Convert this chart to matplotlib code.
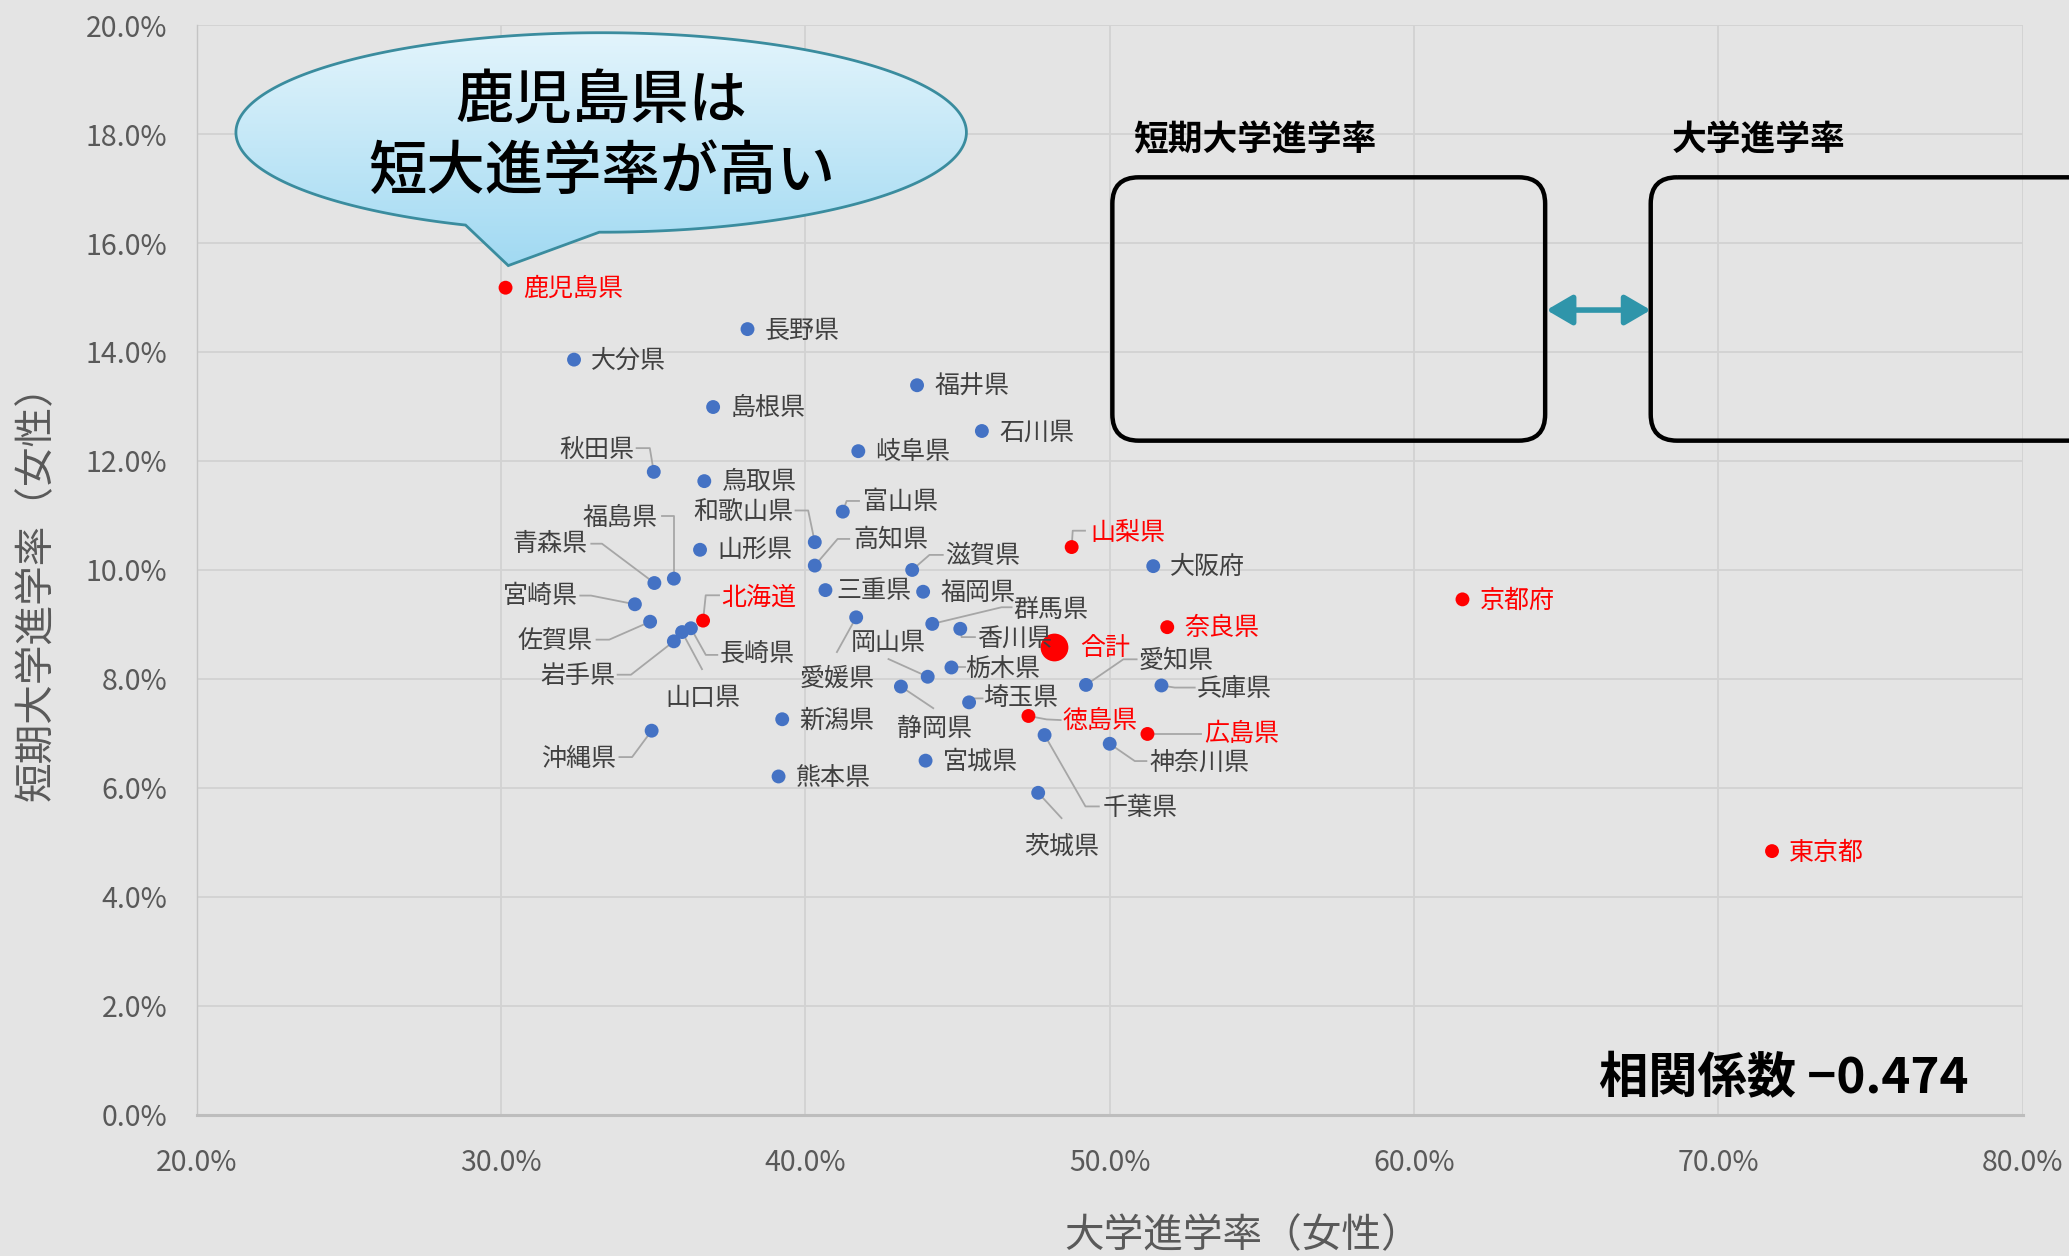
import numpy as np
import matplotlib
matplotlib.use("Agg")
import matplotlib.pyplot as plt
from matplotlib.patches import Polygon, FancyBboxPatch, FancyArrowPatch
from matplotlib.lines import Line2D
from matplotlib.transforms import IdentityTransform
from matplotlib.ticker import FuncFormatter

plt.rcParams['font.family'] = ['Noto Sans CJK JP', 'DejaVu Sans']

# ---------------- data ----------------
prefectures = ["北海道", "青森県", "岩手県", "宮城県", "秋田県", "山形県", "福島県", "茨城県",
               "栃木県", "群馬県", "埼玉県", "千葉県", "東京都", "神奈川県", "新潟県", "富山県",
               "石川県", "福井県", "山梨県", "長野県", "岐阜県", "静岡県", "愛知県", "三重県",
               "滋賀県", "京都府", "大阪府", "兵庫県", "奈良県", "和歌山県", "鳥取県", "島根県",
               "岡山県", "広島県", "山口県", "徳島県", "香川県", "愛媛県", "高知県", "福岡県",
               "佐賀県", "長崎県", "熊本県", "大分県", "宮崎県", "鹿児島県", "沖縄県"]
univ_rate = [36.64, 35.04, 35.68, 43.95, 35.02, 36.54, 35.68, 47.65,
             44.80, 44.17, 45.38, 47.86, 71.76, 50.00, 39.24, 41.23,
             45.80, 43.67, 48.75, 38.10, 41.74, 43.14, 49.22, 40.66,
             43.51, 61.59, 51.43, 51.70, 51.89, 40.31, 36.68, 36.97,
             44.02, 51.24, 35.95, 47.33, 45.09, 41.67, 40.31, 43.87,
             34.90, 36.24, 39.12, 32.40, 34.40, 30.15, 34.95]
junior_rate = [9.07, 9.76, 8.69, 6.50, 11.80, 10.37, 9.84, 5.91,
               8.21, 9.01, 7.57, 6.97, 4.84, 6.81, 7.26, 11.07,
               12.55, 13.39, 10.42, 14.42, 12.18, 7.86, 7.89, 9.63,
               10.00, 9.46, 10.07, 7.88, 8.95, 10.51, 11.63, 12.99,
               8.04, 6.99, 8.86, 7.32, 8.92, 9.13, 10.08, 9.60,
               9.05, 8.93, 6.21, 13.86, 9.37, 15.18, 7.05]
highlighted = ["北海道", "東京都", "山梨県", "京都府", "奈良県", "広島県", "徳島県", "鹿児島県"]
total_label = "合計"
total_univ = 48.17
total_junior = 8.59

x_ticks = [20, 30, 40, 50, 60, 70, 80]
y_ticks = [0, 2, 4, 6, 8, 10, 12, 14, 16, 18, 20]
x_label = "大学進学率（女性）"
y_label = "短期大学進学率（女性）"
bubble_lines = ["鹿児島県は", "短大進学率が高い"]
box_titles = ["短期大学進学率", "大学進学率"]
corr_text = "相関係数 −0.474"

# ---------------- layout (in 1568x952 preview pixel units) ----------------
W, H, DPI = 2069, 1256, 100
PW, PH = 1568, 952
S = W / PW

# label text offsets: (dx, dy, ha)  y up
default_off = (13, 0, 'left')
label_off = {
    "合計": (20, 0, 'left'), "三重県": (8, 0, 'left'),
    "秋田県": (-14.7, 17, 'right'), "福島県": (-12.1, 47.2, 'right'),
    "和歌山県": (-16, 23.2, 'right'), "青森県": (-50.7, 30.3, 'right'),
    "宮崎県": (-43.5, 7, 'right'), "佐賀県": (-43.5, -13.6, 'right'),
    "岩手県": (-44, -25.3, 'right'), "沖縄県": (-26.7, -20.7, 'right'),
    "山口県": (16, -48.8, 'center'), "長崎県": (21.4, -18.8, 'left'),
    "北海道": (13.5, 18.4, 'left'), "富山県": (15.1, 8.1, 'left'),
    "高知県": (28.9, 20.2, 'left'), "滋賀県": (24.7, 11.4, 'left'),
    "愛媛県": (-14.6, -45.9, 'center'), "岡山県": (-29.8, 26.5, 'center'),
    "群馬県": (61.4, 11.9, 'left'), "香川県": (12.4, -7.1, 'left'),
    "栃木県": (10.2, -0.5, 'left'), "埼玉県": (10.7, 4, 'left'),
    "静岡県": (25.2, -31.1, 'center'), "徳島県": (26, -2.5, 'left'),
    "愛知県": (40, 19.4, 'left'), "兵庫県": (27, -1.6, 'left'),
    "広島県": (42.7, 1.3, 'left'), "神奈川県": (29.8, -13.6, 'left'),
    "千葉県": (44.2, -54.5, 'left'), "茨城県": (18.1, -40, 'center'),
    "山梨県": (13.8, 11.8, 'left'),
}
# leader polylines: start near label, optional elbow, then to the dot
leaders = {
    "秋田県": [(-13, 18), (-3, 18)], "福島県": [(-9.2, 47.8), (0, 47.8)],
    "和歌山県": [(-14.6, 24), (-5, 24)], "青森県": [(-47.8, 29.8), (-39.7, 29.8)],
    "宮崎県": [(-41.4, 6.6), (-33.3, 6.6)], "佐賀県": [(-40.6, -13.6), (-31, -13.6)],
    "岩手県": [(-42.6, -25.3), (-32.5, -25.3)], "山口県": [(15.1, -28.1)],
    "長崎県": [(20, -20.2), (11.3, -20.2)], "北海道": [(12.1, 19.2), (2, 19.2)],
    "沖縄県": [(-24.4, -20), (-14.8, -20)], "富山県": [(12.3, 8.1), (2.9, 8.1)],
    "高知県": [(26.1, 20.2), (17.3, 20.2)], "滋賀県": [(23.2, 11.4), (13.1, 11.4)],
    "愛媛県": [(-14.6, -26.3)], "岡山県": [(-29.7, 13.4)],
    "群馬県": [(60.1, 12.6), (52.5, 12.6)], "香川県": [(11.1, -6.3), (1, -6.3)],
    "栃木県": [(10.2, 0)], "埼玉県": [(10.2, 3), (3.1, 3)],
    "静岡県": [(24.5, -16.4)], "徳島県": [(24.4, -3.1), (13.8, -2.6)],
    "愛知県": [(38.4, 19.4), (28.3, 19.4)], "兵庫県": [(25.2, -1.6), (10.1, -1.6)],
    "広島県": [(40.9, 0)], "神奈川県": [(27.8, -13.1), (19, -13.1)],
    "千葉県": [(41.1, -54.1), (31, -54.1)], "茨城県": [(17.7, -19.2)],
    "山梨県": [(10.1, 12.4), (0.8, 12.4)],
}

BG = '#e4e4e4'
BLUE = '#4472c4'
RED = '#ff0000'
LABEL_GRAY = '#404040'
AXIS_GRAY = '#595959'

fig = plt.figure(figsize=(W / DPI, H / DPI), dpi=DPI)
fig.patch.set_facecolor(BG)

ax = fig.add_axes([149 / PW, 1 - 845 / PH, (1533 - 149) / PW, (845 - 19) / PH])
ax.set_facecolor(BG)
ax.set_xlim(x_ticks[0], x_ticks[-1])
ax.set_ylim(y_ticks[0], y_ticks[-1])
ax.set_xticks(x_ticks)
ax.set_yticks(y_ticks)
ax.xaxis.set_major_formatter(FuncFormatter(lambda v, p: f"{v:.1f}%"))
ax.yaxis.set_major_formatter(FuncFormatter(lambda v, p: f"{v:.1f}%"))
ax.grid(True, color='#d2d2d2', lw=1.3)
ax.set_axisbelow(True)
for s in ['top', 'right']:
    ax.spines[s].set_visible(False)
ax.spines['left'].set_color('#c4c4c4')
ax.spines['left'].set_linewidth(1.0)
ax.spines['bottom'].set_color('#bdbdbd')
ax.spines['bottom'].set_linewidth(2.2)
ax.tick_params(axis='both', length=0, labelsize=20.5, labelcolor=AXIS_GRAY)
ax.tick_params(axis='y', pad=21)
ax.tick_params(axis='x', pad=24)

colors = [RED if p in highlighted else BLUE for p in prefectures]
ax.scatter(univ_rate, junior_rate, s=100, c=colors, linewidths=0, zorder=3)
ax.scatter([total_univ], [total_junior], s=400, c=RED, linewidths=0, zorder=3)

names = prefectures + [total_label]
xs = univ_rate + [total_univ]
ys = junior_rate + [total_junior]
for name, x, y in zip(names, xs, ys):
    dx, dy, ha = label_off.get(name, default_off)
    col = RED if (name in highlighted or name == total_label) else LABEL_GRAY
    ax.annotate(name, (x, y), xytext=(dx * S, (dy - 1) * S), textcoords='offset pixels',
                ha=ha, va='center', fontsize=18, color=col, zorder=4)
    if name in leaders:
        px, py = ax.transData.transform((x, y))
        pts = [(px + ox * S, py + oy * S) for ox, oy in leaders[name]] + [(px, py)]
        line = Line2D([p[0] for p in pts], [p[1] for p in pts], color='#a6a6a6',
                      lw=1.3, transform=IdentityTransform(), zorder=2.5)
        ax.add_artist(line)

# ---------------- overlay (shapes / annotations) ----------------
ov = fig.add_axes([0, 0, 1, 1], zorder=5)
ov.set_xlim(0, PW)
ov.set_ylim(PH, 0)
ov.axis('off')

# speech bubble
cx, cy, a, b = 455.6, 100.4, 276.8, 75.6
t = np.radians(np.linspace(111.8, 450.3, 400))
bx = cx + a * np.cos(t)
by = cy + b * np.sin(t)
verts = list(zip(bx, by)) + [(385.2, 201.3)]
bubble = Polygon(verts, closed=True, fill=False, ec='#3a8c9e', lw=2.0, zorder=6)
grad = np.linspace(np.array([228, 245, 252]) / 255, np.array([160, 217, 242]) / 255, 256)[:, None, :]
img = ov.imshow(grad, extent=(175, 736, 204, 22), origin='upper', aspect='auto', zorder=5)
clip_poly = Polygon(verts, closed=True, transform=ov.transData, fc='none', ec='none')
ov.add_patch(clip_poly)
img.set_clip_path(clip_poly)
ov.add_patch(bubble)
ov.text(456, 77, bubble_lines[0], ha='center', va='center', fontsize=42, color='black',
        weight='medium', zorder=7)
ov.text(456, 131, bubble_lines[1], ha='center', va='center', fontsize=42, color='black',
        weight='medium', zorder=7)

# boxes
for x0, w in [(843, 328), (1251, 400)]:
    ov.add_patch(FancyBboxPatch((x0, 134.4), w, 199.6, boxstyle='round,pad=0,rounding_size=20',
                                fill=False, ec='black', lw=3.2, zorder=6))
ov.text(858.7, 106, box_titles[0], ha='left', va='center', fontsize=25, weight='bold', color='black')
ov.text(1266.7, 106, box_titles[1], ha='left', va='center', fontsize=25, weight='bold', color='black')
ov.add_patch(FancyArrowPatch((1172, 235), (1251, 235),
                             arrowstyle='<|-|>,head_length=0.6,head_width=0.35',
                             mutation_scale=26, color='#2f95aa', lw=4, shrinkA=0, shrinkB=0,
                             zorder=6))

ov.text(1492, 818, corr_text, ha='right', va='center', fontsize=35.5, weight='bold', color='black')

ov.text(28, 442, y_label, rotation=90, ha='center', va='center', fontsize=28.5, color=AXIS_GRAY)
ov.text(942, 937, x_label, ha='center', va='center', fontsize=28.5, color=AXIS_GRAY)
ov.set_xlim(0, PW)
ov.set_ylim(PH, 0)

fig.savefig("out.png", dpi=DPI, facecolor=BG)
